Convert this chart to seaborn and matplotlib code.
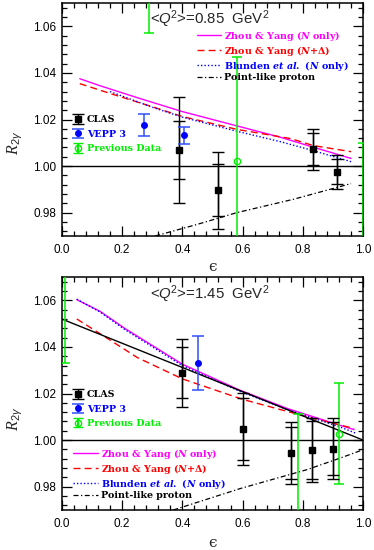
import numpy as np
import pandas as pd
import matplotlib
matplotlib.use('Agg')
import matplotlib.pyplot as plt
import seaborn as sns
from matplotlib.ticker import MultipleLocator, AutoMinorLocator

# <Q^2> = 0.85 GeV^2
clas1_x = [0.39, 0.52, 0.832, 0.913]
clas1_y = [1.0070, 0.9897, 1.0073, 0.9976]
clas1_stat = [0.0125, 0.0110, 0.0067, 0.0053]
clas1_tot = [0.0227, 0.0165, 0.0088, 0.0073]
vepp1_x = [0.273, 0.405]
vepp1_y = [1.0176, 1.0133]
vepp1_err = [0.0048, 0.0037]
prev1_x = [0.29, 0.58, 0.998]
prev1_y = [1.100, 1.002, 0.955]
prev1_err = [0.0428, 0.045, 0.0551]

zyn1_x = [0.06, 0.127, 0.25, 0.4, 0.58, 0.725, 0.83, 0.96]
zyn1_y = [1.0375, 1.0345, 1.0294, 1.0234, 1.0173, 1.0124, 1.0083, 1.0033]
zyd1_x = [0.06, 0.16, 0.3, 0.4, 0.58, 0.76, 0.835, 0.96]
zyd1_y = [1.0354, 1.0312, 1.0255, 1.0213, 1.0158, 1.0118, 1.0088, 1.0062]
bl1_x = [0.16, 0.3, 0.4, 0.58, 0.725, 0.83, 0.96]
bl1_y = [1.0320, 1.0253, 1.0210, 1.0150, 1.0105, 1.0068, 1.0019]
pl1_x = [0.31, 0.45, 0.58, 0.77, 0.96]
pl1_y = [0.970, 0.975, 0.980, 0.9858, 0.9925]

# <Q^2> = 1.45 GeV^2
clas2_x = [0.40, 0.60, 0.76, 0.83, 0.90]
clas2_y = [1.0289, 1.0047, 0.9944, 0.9957, 0.9964]
clas2_stat = [0.0110, 0.0134, 0.0113, 0.0124, 0.0114]
clas2_tot = [0.0145, 0.0154, 0.0134, 0.0138, 0.0133]
vepp2_x = [0.453]
vepp2_y = [1.0332]
vepp2_err = [0.0115]
prev2_x = [0.011, 0.785, 0.919]
prev2_y = [1.090, 0.955, 1.0028]
prev2_err = [0.0568, 0.0561, 0.0218]

zyn2_x = [0.05, 0.127, 0.21, 0.4, 0.59, 0.75, 0.92, 0.97]
zyn2_y = [1.0603, 1.0553, 1.0479, 1.0326, 1.0215, 1.0135, 1.0065, 1.0045]
zyd2_x = [0.05, 0.127, 0.25, 0.4, 0.6, 0.8, 0.97]
zyd2_y = [1.0520, 1.0457, 1.0355, 1.0263, 1.0175, 1.0105, 1.0050]
bl2_x = [0.05, 0.127, 0.21, 0.4, 0.59, 0.75, 0.92, 0.975]
bl2_y = [1.0605, 1.0550, 1.0474, 1.0320, 1.0210, 1.0130, 1.0058, 1.0030]
lin2_x = [0.0, 1.0]
lin2_y = [1.052, 1.000]
pl2_x = [0.37, 0.592, 0.813, 0.924, 1.0]
pl2_y = [0.970, 0.9792, 0.9873, 0.9923, 0.9959]

titles = [r'<$\mathcal{Q}^{\mathsf{2}}$>=0.85  GeV$^{\mathsf{2}}$',
          r'<$\mathcal{Q}^{\mathsf{2}}$>=1.45  GeV$^{\mathsf{2}}$']
theory_labels = [r'Zhou & Yang ($N$ only)', r'Zhou & Yang ($N$+$\Delta$)',
                 r'Blunden $et\ al.$ ($N$ only)', 'Point-like proton']
data_labels = ['CLAS', 'VEPP 3', 'Previous Data']

GREEN = '#00ee00'
MAG = '#ff00ff'
RED = '#ff0000'
BLUE = '#0000ff'

sns.set_style('ticks')
plt.rcParams['font.family'] = ['Liberation Sans', 'DejaVu Sans']
plt.rcParams['mathtext.fontset'] = 'custom'
plt.rcParams['mathtext.rm'] = 'DejaVu Serif:bold'
plt.rcParams['mathtext.it'] = 'DejaVu Serif:italic:bold'
plt.rcParams['mathtext.sf'] = 'Liberation Sans'
plt.rcParams['mathtext.cal'] = 'Liberation Sans:italic'
plt.rcParams['mathtext.bf'] = 'Liberation Serif:italic'
plt.rcParams['axes.edgecolor'] = 'black'
plt.rcParams['axes.linewidth'] = 1.1

fig = plt.figure(figsize=(3.74, 5.5), dpi=100)
ax1 = fig.add_axes([0.165, 0.5709, 0.806, 0.4236])
ax2 = fig.add_axes([0.165, 0.0727, 0.806, 0.4236])

lgfont = dict(family='DejaVu Serif', weight='bold', size=6.8)


def draw_data(ax, cx, cy, cs, ct, vx, vy, ve, px, py, pe):
    ax.errorbar(px, py, yerr=pe, fmt='o', ms=4.5, mfc='none', mec=GREEN,
                ecolor=GREEN, color=GREEN, capsize=3.8, elinewidth=1.1, capthick=1.1, zorder=3)
    ax.errorbar(cx, cy, yerr=ct, fmt='none', ecolor='black', capsize=4,
                elinewidth=1.0, capthick=1.0, zorder=4)
    c = ax.errorbar(cx, cy, yerr=cs, fmt='s', ms=5, color='black', ecolor='black',
                    capsize=4, elinewidth=1.0, capthick=1.0, zorder=5)
    v = ax.errorbar(vx, vy, yerr=ve, fmt='o', ms=4, color=BLUE, ecolor='#3050ff',
                    capsize=4, elinewidth=1.1, capthick=1.1, zorder=5)
    p = ax.errorbar([np.nan], [np.nan], yerr=[0.01], fmt='o', ms=4.5, mfc='none',
                    mec=GREEN, ecolor=GREEN, color=GREEN, capsize=3.5)
    return [c, v, p]


def draw_theory(ax, zn, zd, bl, pl):
    sns.lineplot(x=zn[0], y=zn[1], ax=ax, color=MAG, lw=1.0, linestyle='-')
    sns.lineplot(x=zd[0], y=zd[1], ax=ax, color=RED, lw=1.0)
    ax.lines[-1].set_linestyle((0, (5, 3)))
    sns.lineplot(x=bl[0], y=bl[1], ax=ax, color=BLUE, lw=1.0)
    ax.lines[-1].set_linestyle((0, (1, 1.5)))
    sns.lineplot(x=pl[0], y=pl[1], ax=ax, color='black', lw=0.9)
    ax.lines[-1].set_linestyle((0, (4, 2, 1, 2)))
    return ax.lines[-4:]


for ax in (ax1, ax2):
    ax.axhline(1.0, color='black', lw=1.0, zorder=2)

h1 = draw_theory(ax1, (zyn1_x, zyn1_y), (zyd1_x, zyd1_y), (bl1_x, bl1_y), (pl1_x, pl1_y))
d1 = draw_data(ax1, clas1_x, clas1_y, clas1_stat, clas1_tot, vepp1_x, vepp1_y, vepp1_err,
               prev1_x, prev1_y, prev1_err)
h2 = draw_theory(ax2, (zyn2_x, zyn2_y), (zyd2_x, zyd2_y), (bl2_x, bl2_y), (pl2_x, pl2_y))
sns.lineplot(x=lin2_x, y=lin2_y, ax=ax2, color='black', lw=1.0)
d2 = draw_data(ax2, clas2_x, clas2_y, clas2_stat, clas2_tot, vepp2_x, vepp2_y, vepp2_err,
               prev2_x, prev2_y, prev2_err)

for ax, title in zip((ax1, ax2), titles):
    ax.set_xlim(0, 1)
    ax.set_ylim(0.97, 1.07)
    ax.set_xticks([0, 0.2, 0.4, 0.6, 0.8, 1.0])
    ax.set_xticklabels(['0.0', '0.2', '0.4', '0.6', '0.8', '1.0'])
    ax.set_yticks([0.98, 1.00, 1.02, 1.04, 1.06])
    ax.set_yticklabels(['0.98', '1.00', '1.02', '1.04', '1.06'])
    ax.xaxis.set_minor_locator(AutoMinorLocator(5))
    ax.yaxis.set_minor_locator(AutoMinorLocator(5))
    ax.tick_params(which='both', direction='in', top=True, right=True, color='black', width=0.9,
                   labelsize=8.5, labelcolor='black')
    ax.tick_params(which='major', length=7)
    ax.tick_params(which='minor', length=3.5)
    ax.tick_params(axis='x', pad=6)
    ax.tick_params(axis='y', pad=4)
    ax.set_ylabel('')
    ax.text(0.49, 0.932 if ax is ax1 else 0.928, title, transform=ax.transAxes,
            ha='center', va='center', fontsize=10.8)
    ax.grid(False)

ylab = r'$\mathbf{R}_{\mathsf{2}\mathcal{γ}}$'
ax1.text(-0.155, 0.40, ylab, transform=ax1.transAxes, rotation=90,
         ha='center', va='center', fontsize=11.5)
ax2.text(-0.155, 0.39, ylab, transform=ax2.transAxes, rotation=90,
         ha='center', va='center', fontsize=11.5)
ax1.text(0.5, -0.132, 'ϵ', transform=ax1.transAxes, ha='center', va='center',
         fontsize=11, family='DejaVu Serif')
ax2.text(0.5, -0.142, 'ϵ', transform=ax2.transAxes, ha='center', va='center',
         fontsize=11, family='DejaVu Serif')

theory_colors = [MAG, RED, BLUE, 'black']
data_colors = ['black', BLUE, GREEN]

lg = ax1.legend(h1, theory_labels, loc='upper left', bbox_to_anchor=(0.448, 0.89),
                frameon=False, prop=lgfont, handlelength=2.6, handletextpad=0.3,
                labelspacing=0.1, borderpad=0, borderaxespad=0, labelcolor=theory_colors)
ax1.add_artist(lg)
ax1.legend(d1, data_labels, loc='upper left', bbox_to_anchor=(0.04, 0.518), frameon=False,
           prop=lgfont, handlelength=1.0, handletextpad=0.4, labelspacing=0.57, borderpad=0,
           borderaxespad=0, labelcolor=data_colors)

lg2 = ax2.legend(h2, theory_labels, loc='upper left', bbox_to_anchor=(0.038, 0.272),
                 frameon=False, prop=lgfont, handlelength=2.6, handletextpad=0.3,
                 labelspacing=0.1, borderpad=0, borderaxespad=0, labelcolor=theory_colors)
ax2.add_artist(lg2)
ax2.legend(d2, data_labels, loc='upper left', bbox_to_anchor=(0.04, 0.514), frameon=False,
           prop=lgfont, handlelength=1.0, handletextpad=0.4, labelspacing=0.57, borderpad=0,
           borderaxespad=0, labelcolor=data_colors)

fig.savefig('out.png', dpi=100)
